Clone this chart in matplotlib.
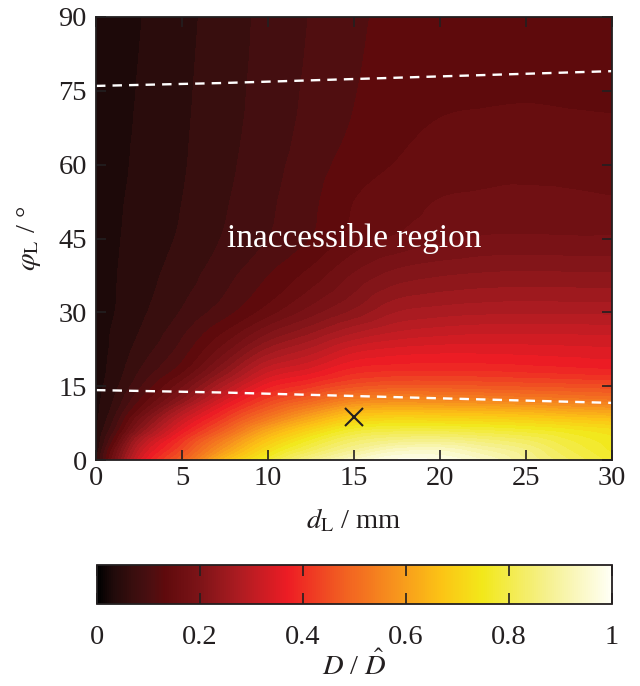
import numpy as np
import matplotlib
matplotlib.use("Agg")
import matplotlib.pyplot as plt
import matplotlib.tri as mtri
from matplotlib.colors import LinearSegmentedColormap, Normalize
from matplotlib.cm import ScalarMappable

plt.rcParams['font.family'] = ['Liberation Serif', 'DejaVu Serif']
plt.rcParams['mathtext.fontset'] = 'stix'

# ---------------- data ----------------
d_mm = [0, 1, 2.5, 5, 7.5, 10, 12.5, 15, 17.5, 20, 22.5, 25, 27.5, 30]
phi_deg = [0, 2, 4, 6, 8, 10, 12, 15, 18, 22, 26, 30, 38, 45, 52.5, 60, 67.5, 75, 90]

# D / D_hat along phi (one list per d_L value)
ratio_d0 = [.05, .045, .04, .037, .035, .034, .033, .032, .031, .03, .03, .03, .03, .03, .029, .028, .027, .026, .026]
ratio_d1 = [.17, .15, .12, .095, .08, .068, .06, .052, .047, .044, .042, .039, .038, .037, .036, .035, .034, .033, .032]
ratio_d2_5 = [.33, .30, .265, .215, .18, .145, .12, .095, .08, .068, .06, .055, .05, .047, .045, .043, .042, .041, .039]
ratio_d5 = [.48, .44, .405, .36, .32, .275, .225, .175, .135, .11, .095, .082, .07, .063, .06, .058, .057, .056, .054]
ratio_d7_5 = [.65, .59, .54, .48, .43, .385, .34, .28, .225, .175, .14, .112, .092, .082, .078, .075, .073, .072, .07]
ratio_d10 = [.77, .72, .67, .61, .54, .48, .43, .37, .315, .25, .195, .15, .118, .10, .096, .093, .09, .088, .086]
ratio_d12_5 = [.87, .81, .76, .70, .63, .56, .49, .41, .35, .29, .235, .19, .145, .12, .115, .11, .106, .104, .101]
ratio_d15 = [.94, .88, .83, .77, .70, .63, .55, .45, .39, .335, .275, .225, .18, .148, .14, .13, .122, .119, .116]
ratio_d17_5 = [.985, .93, .86, .79, .72, .645, .565, .465, .40, .35, .30, .26, .205, .163, .150, .141, .134, .129, .125]
ratio_d20 = [.98, .935, .865, .79, .715, .64, .56, .465, .40, .355, .31, .27, .215, .175, .161, .150, .142, .135, .129]
ratio_d22_5 = [.94, .90, .845, .78, .71, .635, .555, .46, .40, .355, .315, .275, .22, .182, .164, .153, .144, .137, .131]
ratio_d25 = [.88, .86, .82, .765, .70, .625, .545, .455, .395, .353, .316, .277, .222, .183, .165, .155, .145, .138, .132]
ratio_d27_5 = [.82, .80, .78, .745, .685, .61, .535, .45, .39, .35, .315, .276, .221, .182, .164, .154, .144, .137, .132]
ratio_d30 = [.77, .755, .745, .725, .67, .60, .525, .445, .385, .347, .313, .275, .22, .182, .162, .152, .143, .136, .131]

# dashed boundary lines of the accessible region
line_d = [0, 7.5, 15, 22.5, 30]
upper_phi = [76.0, 76.6, 77.4, 78.2, 79.0]
lower_phi = [14.2, 13.7, 13.0, 12.3, 11.6]

# marked optimum
opt_d = [15]
opt_phi = [8.7]

cbar_ticks = [0, 0.2, 0.4, 0.6, 0.8, 1]
cbar_ticklabels = ['0', '0.2', '0.4', '0.6', '0.8', '1']
x_ticks = [0, 5, 10, 15, 20, 25, 30]
y_ticks = [0, 15, 30, 45, 60, 75, 90]

# ---------------- style ----------------
ink = '#231f20'
fs = 20.5
cmap = LinearSegmentedColormap.from_list('dh', [
    (0.00, '#000000'), (0.03, '#200a0a'), (0.05, '#2c0c0c'), (0.07, '#3a0e0e'),
    (0.09, '#440e10'), (0.11, '#500e10'), (0.13, '#5e0a0c'), (0.20, '#7e1418'),
    (0.28, '#b01c22'), (0.37, '#ed1c24'), (0.47, '#f15a22'), (0.58, '#f7941d'),
    (0.67, '#fcc415'), (0.75, '#f2e81a'), (0.87, '#f5f08a'), (1.00, '#fffff5')])
norm = Normalize(0, 1)

Z = np.array([ratio_d0, ratio_d1, ratio_d2_5, ratio_d5, ratio_d7_5, ratio_d10,
              ratio_d12_5, ratio_d15, ratio_d17_5, ratio_d20, ratio_d22_5,
              ratio_d25, ratio_d27_5, ratio_d30]).T

fig = plt.figure(figsize=(6.4, 6.86), dpi=100)
ax = fig.add_axes([96/640, 1-460/686, 516/640, 443/686])

# smooth contour rendering with matplotlib's own triangulation refiner
D, P = np.meshgrid(d_mm, phi_deg)
tri = mtri.Triangulation(D.ravel() / 30.0, P.ravel() / 90.0)
interp = mtri.CubicTriInterpolator(tri, Z.ravel(), kind='geom')
refiner = mtri.UniformTriRefiner(tri)
tri_f, z_f = refiner.refine_field(Z.ravel(), triinterpolator=interp, subdiv=3)
tri_f = mtri.Triangulation(tri_f.x * 30.0, tri_f.y * 90.0, tri_f.triangles)

levels = np.linspace(0, 1, 51)
ax.tricontourf(tri_f, np.clip(z_f, 0, 1), levels=levels, cmap=cmap, norm=norm)

ax.plot(line_d, upper_phi, color='white', lw=1.7, dashes=(4, 3))
ax.plot(line_d, lower_phi, color='white', lw=1.7, dashes=(4, 3))
ax.plot(opt_d, opt_phi, marker='x', color=ink, ms=13, mew=1.5, ls='none')

ax.text(15, 45, 'inaccessible region', color='white', fontsize=24,
        ha='center', va='center')

ax.set_xlim(0, 30)
ax.set_ylim(0, 90)
ax.set_xticks(x_ticks)
ax.set_yticks(y_ticks)
ax.tick_params(direction='in', top=True, right=True, length=7, width=1.2,
               labelsize=fs, colors=ink)
ax.tick_params(axis='x', pad=4.5)
ax.tick_params(axis='y', pad=6.5)
for s in ax.spines.values():
    s.set_color(ink)
    s.set_linewidth(1.3)
ax.set_xlabel(r'$d_\mathrm{L}$ / mm', fontsize=fs, color=ink, labelpad=11)
ax.set_ylabel(r'$\varphi_\mathrm{L}$ / °', fontsize=fs, color=ink, labelpad=11)

cax = fig.add_axes([97/640, 1-604/686, 515/640, 39/686])
cb = fig.colorbar(ScalarMappable(norm=norm, cmap=cmap), cax=cax,
                  orientation='horizontal')
cb.set_ticks(cbar_ticks)
cb.set_ticklabels(cbar_ticklabels)
cax.tick_params(direction='in', top=True, bottom=True, length=8, width=1.2,
                labelsize=fs, pad=15, colors=ink)
cb.outline.set_color(ink)
cb.outline.set_linewidth(1.3)
cb.set_label(r'$D$ / $\hat{D}$', fontsize=fs, color=ink, labelpad=1)

fig.savefig('out.png', dpi=100)
